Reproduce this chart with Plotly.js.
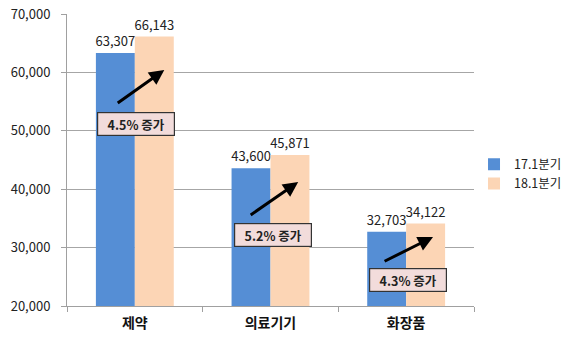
<!DOCTYPE html>
<html><head><meta charset="utf-8">
<script src="https://cdn.plot.ly/plotly-3.0.1.min.js"></script>
<style>html,body{margin:0;padding:0;background:#fff}#chart{width:567px;height:351px}</style>
</head><body><div id="chart"></div>
<script>
const categories = ['제약', '의료기기', '화장품'];
const seriesNames = ['17.1분기', '18.1분기'];
const q17 = [63307, 43600, 32703];
const q18 = [66143, 45871, 34122];
const growthLabels = ['4.5% 증가', '5.2% 증가', '4.3% 증가'];

const fontFam = '"Noto Sans CJK KR", "Noto Sans", sans-serif';
const fmt = v => v.toLocaleString('en-US');

const traces = [
  {type:'bar', name:seriesNames[0], x:categories, y:q17, marker:{color:'#558ed5'},
   text:q17.map(fmt), textposition:'outside', cliponaxis:false, constraintext:'none',
   textfont:{size:13, color:'#222', family:fontFam}, hoverinfo:'none'},
  {type:'bar', name:seriesNames[1], x:categories, y:q18, marker:{color:'#fcd5b5'},
   text:q18.map(fmt), textposition:'outside', cliponaxis:false, constraintext:'none',
   textfont:{size:13, color:'#222', family:fontFam}, hoverinfo:'none'}
];

// arrow / box positions relative to category index
const arrowHeadDx = [0.217, 0.204, 0.198];
const arrowHeadY = [60411, 41233, 31815];
const arrowTailDx = [-0.137, -0.157, -0.170];
const arrowTailY = [54589, 35411, 27534];
const boxDx = [0.010, 0.019, 0.013];
const boxY = [51164, 32158, 24452];

const annotations = [];
categories.forEach((c, i) => {
  annotations.push({xref:'x', yref:'y', axref:'x', ayref:'y',
    x:i+arrowHeadDx[i], y:arrowHeadY[i], ax:i+arrowTailDx[i], ay:arrowTailY[i],
    showarrow:true, arrowhead:2, arrowsize:1.0, arrowwidth:3, arrowcolor:'#000', text:''});
  annotations.push({xref:'x', yref:'y', x:i+boxDx[i], y:boxY[i], showarrow:false,
    text:'<b>'+growthLabels[i]+'</b>', font:{size:12.5, color:'#222', family:fontFam},
    bgcolor:'#f2dcdb', bordercolor:'#333', borderwidth:1.2, borderpad:0,
    width:76, height:22});
});

const layout = {
  width:567, height:351,
  margin:{l:67, r:93, t:14, b:45},
  paper_bgcolor:'#fff', plot_bgcolor:'#fff',
  barmode:'group', bargap:0.426, bargroupgap:0,
  font:{family:fontFam, color:'#222'},
  xaxis:{type:'category', showline:true, linecolor:'#a0a0a0', linewidth:1,
    ticks:'outside', tickson:'boundaries', ticklen:5, tickcolor:'#a0a0a0',
    tickfont:{size:14, color:'#111', family:fontFam, weight:'bold'},
    ticklabelstandoff:4,
    showgrid:false, range:[-0.5, 2.5]},
  yaxis:{range:[20000, 70000], dtick:10000, tickformat:',d',
    showline:true, linecolor:'#a0a0a0', linewidth:1,
    ticks:'outside', ticklen:5, tickcolor:'#a0a0a0',
    gridcolor:'#a6a6a6', gridwidth:1, zeroline:false,
    ticklabelstandoff:8,
    tickfont:{size:13, color:'#222', family:fontFam}},
  legend:{xref:'container', yref:'container', x:0.836, y:0.504, xanchor:'left', yanchor:'middle',
    font:{size:12.5, color:'#222', family:fontFam}, bgcolor:'rgba(0,0,0,0)'},
  annotations:annotations,
  showlegend:true
};

Plotly.newPlot('chart', traces, layout, {displayModeBar:false, staticPlot:true});
</script></body></html>
